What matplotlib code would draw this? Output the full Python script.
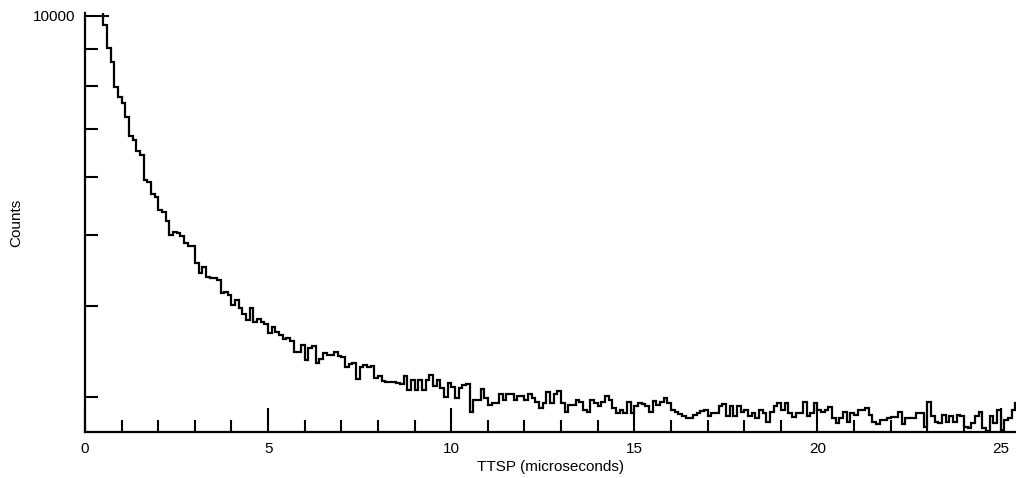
import matplotlib
matplotlib.use("Agg")
import matplotlib.pyplot as plt
import matplotlib.ticker as mticker
import numpy as np

# histogram of time-to-second-pulse, 0.1 us bins starting at 0.4 us
bin_start = 0.4
bin_width = 0.1
counts = [
    10400, 9710, 9020, 8650, 7980, 7740, 7580, 7270, 6830, 6750,
    6530, 6440, 5950, 5920, 5700, 5630, 5410, 5370, 5220, 5000,
    5050, 5040, 4980, 4870, 4830, 4830, 4570, 4440, 4520, 4380,
    4360, 4360, 4340, 4160, 4180, 4140, 4010, 4070, 3970, 3900,
    3820, 3970, 3800, 3840, 3800, 3780, 3670, 3740, 3680, 3650,
    3600, 3610, 3580, 3460, 3450, 3530, 3370, 3500, 3520, 3340,
    3380, 3440, 3420, 3420, 3450, 3410, 3400, 3300, 3330, 3340,
    3170, 3300, 3320, 3300, 3310, 3180, 3200, 3150, 3140, 3140,
    3140, 3130, 3120, 3200, 3060, 3160, 3060, 3160, 3060, 3160,
    3210, 3100, 3160, 3080, 3000, 3130, 3090, 2990, 3080, 3110,
    3120, 2860, 2970, 2970, 3070, 2990, 2920, 2940, 2940, 3030,
    2970, 3030, 3030, 2970, 3010, 3010, 2970, 3030, 2990, 2950,
    2890, 2940, 3040, 2940, 3030, 3050, 2940, 2860, 2920, 2920,
    2970, 2950, 2880, 2860, 2970, 2940, 2910, 2950, 3010, 2970,
    2890, 2850, 2880, 2850, 2950, 2850, 2910, 2940, 2930, 2910,
    2860, 2960, 2920, 2950, 2990, 2940, 2880, 2860, 2840, 2820,
    2800, 2800, 2830, 2850, 2870, 2880, 2820, 2850, 2850, 2910,
    2930, 2820, 2910, 2820, 2910, 2860, 2880, 2820, 2850, 2800,
    2880, 2850, 2770, 2860, 2910, 2940, 2880, 2940, 2850, 2810,
    2850, 2850, 2950, 2820, 2850, 2940, 2880, 2860, 2880, 2900,
    2800, 2760, 2800, 2860, 2770, 2850, 2830, 2880, 2880, 2890,
    2830, 2770, 2750, 2790, 2790, 2800, 2810, 2810, 2860, 2750,
    2800, 2800, 2800, 2850, 2850, 2730, 2950, 2820, 2770, 2760,
    2830, 2770, 2820, 2770, 2830, 2820, 2730, 2720, 2760, 2820,
    2860, 2720, 2690, 2820, 2760, 2880, 2700, 2790, 2800, 2880,
    2940,
]

x_major = [0, 5, 10, 15, 20, 25]
x_minor = list(range(0, 26))
y_major = [10000]
y_minor = [3000, 4000, 5000, 6000, 7000, 8000, 9000]

plt.rcParams['font.family'] = ['Liberation Sans', 'DejaVu Sans']

fig = plt.figure(figsize=(10.16, 4.78), dpi=100)
ax = fig.add_axes([85 / 1016, 46 / 478, 931 / 1016, 419 / 478])

edges = bin_start + bin_width * np.arange(len(counts) + 1)
ax.stairs(counts, edges, color='black', linewidth=1.6, baseline=None)

ax.set_yscale('log')
ax.set_xlim(0, 25.42)
ax.set_ylim(2683, 10086)

ax.xaxis.set_major_locator(mticker.FixedLocator(x_major))
ax.xaxis.set_minor_locator(mticker.FixedLocator(x_minor))
ax.yaxis.set_major_locator(mticker.FixedLocator(y_major))
ax.yaxis.set_minor_locator(mticker.FixedLocator(y_minor))
ax.yaxis.set_major_formatter(mticker.FixedFormatter(['10000']))
ax.yaxis.set_minor_formatter(mticker.NullFormatter())

ax.tick_params(which='major', direction='in', length=17, width=1.5, labelsize=11, pad=7)
ax.tick_params(which='minor', direction='in', length=9, width=1.5)

for side in ['top', 'right']:
    ax.spines[side].set_visible(False)
for side in ['left', 'bottom']:
    ax.spines[side].set_linewidth(1.6)

ax.set_xlabel('TTSP (microseconds)', fontsize=11, labelpad=3)
ax.set_ylabel('Counts', fontsize=11)
ax.yaxis.set_label_coords(-0.066, 0.5)

fig.savefig('out.png', dpi=100)
